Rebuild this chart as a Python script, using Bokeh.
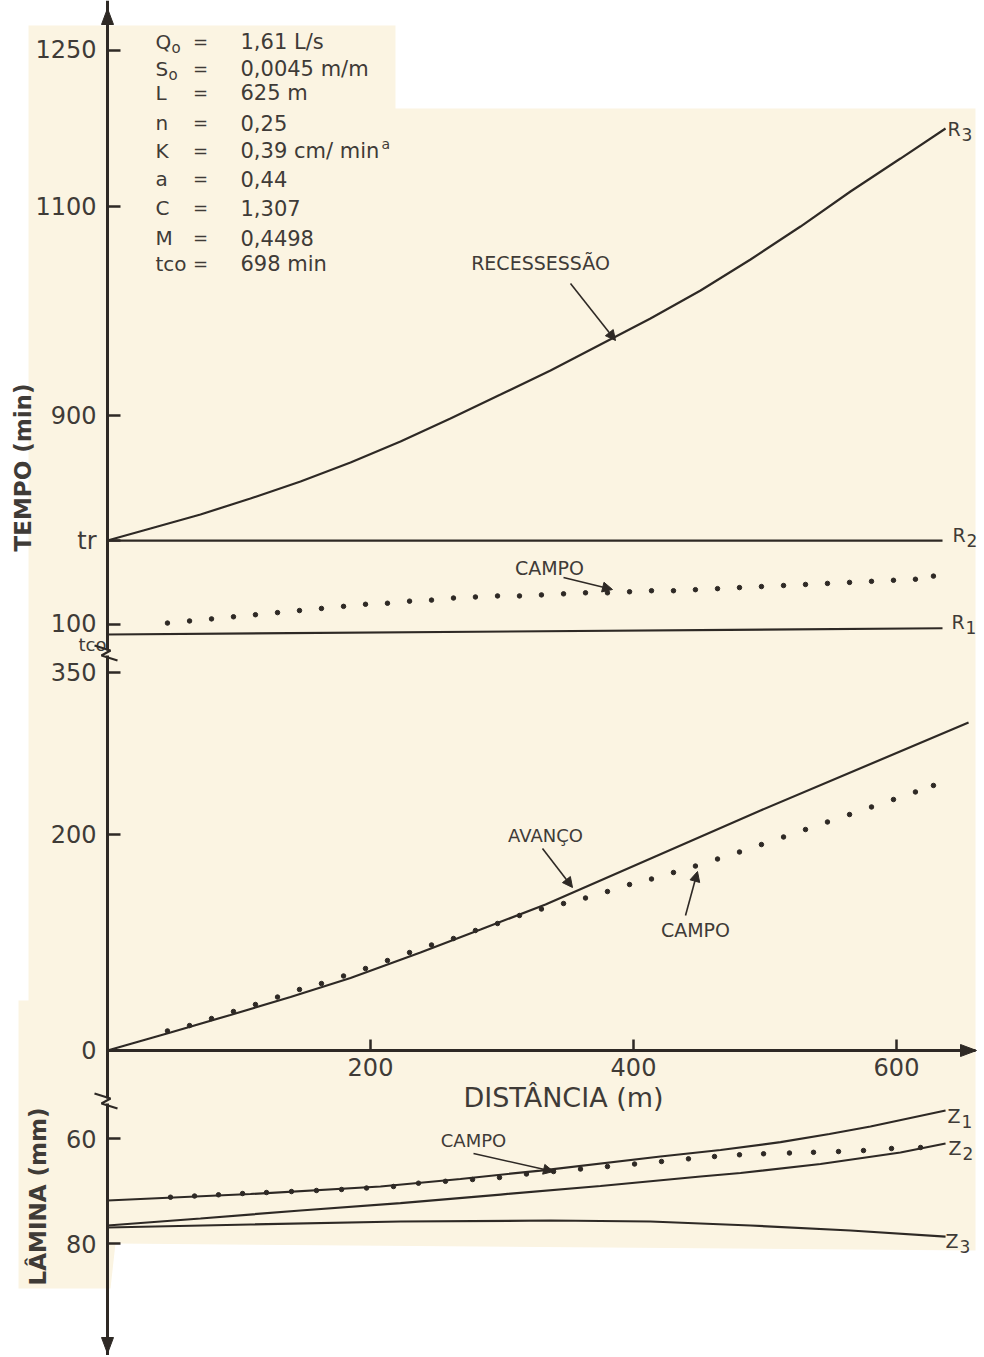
import numpy as np
from bokeh.plotting import figure
from bokeh.models import Range1d, FixedTicker, Label, Arrow, NormalHead, LinearAxis
from bokeh.embed import file_html
from bokeh.resources import INLINE

# ---------------- data ----------------
param_names = ["Q", "S", "L", "n", "K", "a", "C", "M", "tco"]
param_values = ["1,61 L/s", "0,0045 m/m", "625 m", "0,25", "0,39 cm/ min", "0,44",
                "1,307", "0,4498", "698 min"]

# recession curves: distance (m) / time (min)
r3_dist = [0, 32.7, 70.7, 108.7, 146.8, 184.8, 222.8, 260.8, 298.9, 336.9, 374.9, 412.9,
           451.0, 489.0, 527.0, 565.0, 603.0, 637.3]
r3_time = [780.2, 791.7, 805.1, 820.4, 836.7, 854.9, 875.0, 897.1, 920.1, 943.2, 968.1, 993.0,
           1019.9, 1049.6, 1081.2, 1114.8, 1146.4, 1175.2]
r2_dist = [0, 635]
r2_time = [780, 780]
r1_dist = [0, 635]
r1_time = [690, 696]

# field stations (m)
field_dist = [45.6, 62.4, 79.1, 95.8, 112.5, 129.3, 146.0, 162.7, 179.5, 196.2, 212.9, 229.7,
              246.4, 263.1, 279.8, 296.6, 313.3, 330.0, 346.8, 363.5, 380.2, 397.0, 413.7, 430.4,
              447.1, 463.9, 480.6, 497.3, 514.1, 530.8, 547.5, 564.3, 581.0, 597.7, 614.4, 628.1]
rec_field_time = [701, 703, 705, 707, 709, 711, 713, 715, 717, 719, 720, 722,
                  723, 725, 726, 727, 727, 728, 729, 730, 730, 731, 732, 732,
                  733, 734, 735, 736, 737, 738, 739, 740, 741, 742, 743, 746]
adv_field_time = [18.1, 23.1, 29.6, 36.1, 42.6, 49.5, 56.5, 62.0, 69.0, 75.9, 83.3, 90.7,
                  97.7, 103.7, 111.1, 117.6, 125.0, 131.0, 136.1, 141.2, 147.2, 153.7, 158.8, 164.8,
                  170.8, 177.3, 183.8, 190.7, 197.7, 204.6, 211.6, 218.5, 225.5, 232.4, 239.4, 245.4]

# advance (simulated)
adv_dist = [0, 47.9, 93.5, 139.2, 184.8, 238.0, 283.7, 333.1, 496.6, 654.8]
adv_time = [0, 16.7, 32.9, 49.5, 67.1, 90.7, 112.0, 135.2, 222.2, 303.7]

# infiltrated depth (mm)
z1_dist = [0, 108.7, 207.6, 268.4, 329.3, 420.5, 466.2, 511.8, 549.0, 580.2, 637.3]
z1_depth = [71.81, 70.57, 69.14, 67.71, 66.10, 63.43, 62.19, 60.70, 59.14, 57.71, 54.67]
z2_dist = [0, 70.7, 146.8, 222.8, 298.9, 374.9, 451.0, 481.4, 542.2, 603.0, 637.3]
z2_depth = [76.57, 75.24, 73.71, 72.29, 70.67, 69.05, 67.24, 66.57, 64.86, 62.67, 60.95]
z3_dist = [0, 108.7, 222.8, 336.9, 412.9, 489.0, 565.0, 637.3]
z3_depth = [76.95, 76.38, 75.81, 75.62, 75.81, 76.57, 77.52, 78.67]
lam_field_dist = [47.9, 66.2, 84.4, 102.7, 120.9, 139.9, 158.9, 178.0, 197.0, 217.5,
                  236.5, 257.0, 277.6, 298.1, 318.6, 339.2, 359.7, 380.2, 400.8, 421.3,
                  441.8, 461.6, 480.6, 498.9, 518.6, 536.9, 555.9, 574.9, 596.2, 618.3]
lam_field_depth = [71.18, 70.95, 70.72, 70.48, 70.29, 70.10, 69.90, 69.71, 69.43, 69.14,
                   68.51, 68.15, 67.81, 67.43, 66.76, 66.29, 65.81, 65.33, 64.86, 64.38,
                   63.87, 63.43, 63.10, 62.91, 62.76, 62.63, 62.48, 62.29, 61.90, 61.71]

tempo_ticks = [1250, 1100, 900, 780, 700]
tempo_labels = {1250: "1250", 1100: "1100", 900: "900", 780: "tr", 700: "100"}
adv_ticks = [0, 200, 350]
lam_ticks = [60, 80]
x_ticks = [200, 400, 600]

# ---------------- style ----------------
BG = "#FBF4E2"
LC = "#2e2925"
TC = "#3f3b37"
FONT = "DejaVu Sans"
W, H = 980, 1355

p = figure(width=W, height=H, output_backend="svg", toolbar_location=None,
           x_range=Range1d(-81.37, 663.88), y_range=Range1d(-282.41, 972.22),
           min_border=0, background_fill_color="white", border_fill_color="white",
           outline_line_color=None)
p.grid.visible = False
p.extra_x_ranges = {"px": Range1d(0, W)}
p.extra_y_ranges = {"py": Range1d(H, 0),
                    "tempo": Range1d(-1.32, 1297.94),
                    "lam": Range1d(101.33, -156.76)}

# paper background
p.patch([28, 395, 395, 975, 975, 115, 110, 18, 18, 28],
        [25, 25, 108, 108, 1250, 1243, 1288, 1288, 1000, 1000],
        x_range_name="px", y_range_name="py", fill_color=BG, line_color=None, level="underlay")

# curves
lw = 2.2
p.line(r3_dist, r3_time, y_range_name="tempo", line_color=LC, line_width=lw)
p.line(r2_dist, r2_time, y_range_name="tempo", line_color=LC, line_width=lw)
p.line(r1_dist, r1_time, y_range_name="tempo", line_color=LC, line_width=lw)
p.scatter(field_dist, rec_field_time, y_range_name="tempo", size=4.5, color=LC)

p.line(adv_dist, adv_time, line_color=LC, line_width=lw)
p.scatter(field_dist, adv_field_time, size=4.5, color=LC)

p.line(z1_dist, z1_depth, y_range_name="lam", line_color=LC, line_width=lw)
p.line(z2_dist, z2_depth, y_range_name="lam", line_color=LC, line_width=lw)
p.line(z3_dist, z3_depth, y_range_name="lam", line_color=LC, line_width=lw)
p.scatter(lam_field_dist, lam_field_depth, y_range_name="lam", size=4.5, color=LC)

# ---------------- axes ----------------
def style_axis(ax):
    ax.axis_line_color = LC
    ax.axis_line_width = 3
    ax.major_tick_line_color = LC
    ax.major_tick_line_width = 2.5
    ax.major_tick_in = 13
    ax.major_tick_out = 0
    ax.minor_tick_line_color = None
    ax.major_label_text_font = FONT
    ax.major_label_text_font_size = "24px"
    ax.major_label_text_color = TC
    ax.major_label_standoff = 11

xa = p.xaxis[0]
style_axis(xa)
xa.fixed_location = 0
xa.bounds = (0, 660)
xa.ticker = FixedTicker(ticks=x_ticks)
xa.major_tick_in = 11
xa.major_label_standoff = 8

ya = p.yaxis[0]
style_axis(ya)
ya.fixed_location = 0
ya.bounds = (-44.4, 365.7)
ya.ticker = FixedTicker(ticks=adv_ticks)

ta = LinearAxis(y_range_name="tempo", fixed_location=0, bounds=(674.7, 1297.94),
                ticker=FixedTicker(ticks=tempo_ticks), major_label_overrides=tempo_labels)
style_axis(ta)
p.add_layout(ta, "left")

la = LinearAxis(y_range_name="lam", fixed_location=0, bounds=(53.33, 101.33),
                ticker=FixedTicker(ticks=lam_ticks))
style_axis(la)
p.add_layout(la, "left")

# axis arrow heads and breaks (page coordinates)
p.patch([107, 101, 113], [8, 24, 24], x_range_name="px", y_range_name="py",
        fill_color=LC, line_color=LC, level="overlay")
p.patch([107, 101, 113], [1353, 1337, 1337], x_range_name="px", y_range_name="py",
        fill_color=LC, line_color=LC, level="overlay")
p.patch([976, 960, 960], [1050, 1044, 1056], x_range_name="px", y_range_name="py",
        fill_color=LC, line_color=LC, level="overlay")
for yb in (650, 1098):
    p.line([94, 110, 101, 117], [yb - 5, yb, yb + 5, yb + 10], x_range_name="px",
           y_range_name="py", line_color=LC, line_width=2.2, level="overlay")

# ---------------- texts ----------------
def lab(x, y, text, size=20, align="left", base="middle", angle=0, style="normal"):
    p.add_layout(Label(x=x, y=y, x_range_name="px", y_range_name="py", text=text,
                       text_font=FONT, text_font_size=f"{size}px", text_color=TC,
                       text_align=align, text_baseline=base, angle=angle,
                       text_font_style=style))

rows_y = [41, 68, 92, 122, 150, 178, 207, 237, 263]
for name, val, yy in zip(param_names, param_values, rows_y):
    lab(155, yy, name, 20)
    lab(200, yy, "=", 18, align="center")
    lab(240, yy, val, 21)
lab(171, 47, "o", 15)
lab(168, 74, "o", 15)
lab(381, 143, "a", 14)

lab(22, 467, "TEMPO (min)", 23, align="center", angle=np.pi / 2, style="bold")
lab(37, 1196, "LÂMINA (mm)", 23, align="center", angle=np.pi / 2, style="bold")
lab(106, 644, "tco", 18, align="right")
lab(563, 1097, "DISTÂNCIA (m)", 27, align="center")

for t, sub, x, y in [("R", "3", 947, 128), ("R", "2", 952, 534), ("R", "1", 951, 621),
                     ("Z", "1", 947, 1115), ("Z", "2", 948, 1147), ("Z", "3", 945, 1240)]:
    lab(x, y, t, 19)
    lab(x + 14, y + 6, sub, 17)

lab(540, 262, "RECESSESSÃO", 19, align="center")
lab(549, 567, "CAMPO", 19, align="center")
lab(545, 835, "AVANÇO", 18, align="center")
lab(695, 929, "CAMPO", 19, align="center")
lab(473, 1140, "CAMPO", 18, align="center")

for xs, ys, xe, ye in [(570, 283, 615, 340), (563, 577, 612, 589), (542, 848, 572, 887),
                       (685, 915, 697, 871), (473, 1153, 553, 1171)]:
    p.add_layout(Arrow(x_start=xs, y_start=ys, x_end=xe, y_end=ye, x_range_name="px",
                       y_range_name="py", line_color=LC, line_width=1.6,
                       end=NormalHead(size=10, fill_color=LC, line_color=LC)))

open("out.html", "w").write(file_html(p, INLINE))
